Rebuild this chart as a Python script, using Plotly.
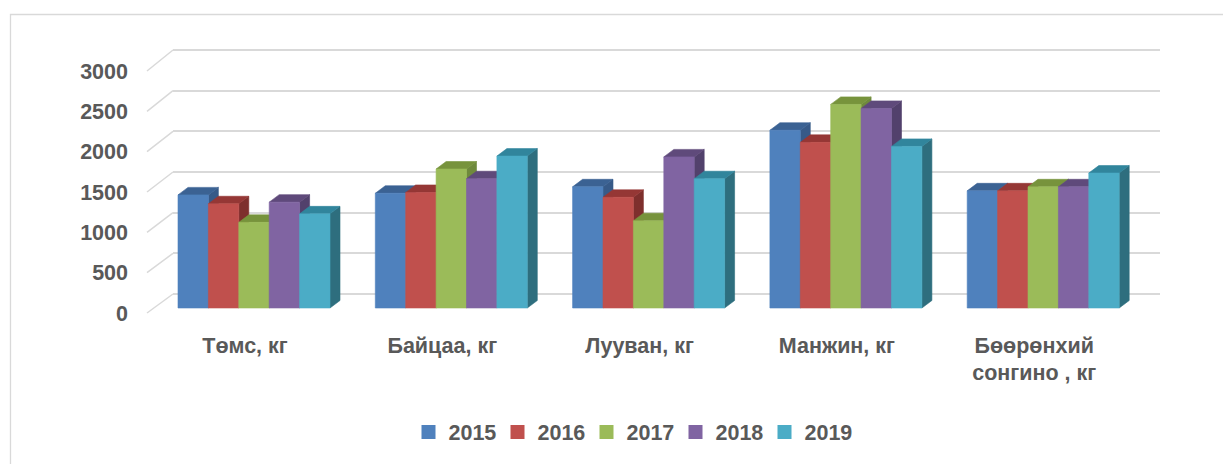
import plotly.graph_objects as go

# ---------------- data ----------------
categories = ["Төмс, кг", "Байцаа, кг", "Лууван, кг", "Манжин, кг", "Бөөрөнхий<br>сонгино , кг"]
years = ["2015", "2016", "2017", "2018", "2019"]
v2015 = [1400, 1420, 1500, 2200, 1450]
v2016 = [1290, 1430, 1370, 2050, 1450]
v2017 = [1060, 1720, 1080, 2520, 1500]
v2018 = [1310, 1600, 1870, 2470, 1500]
v2019 = [1165, 1880, 1600, 2000, 1670]
series = [v2015, v2016, v2017, v2018, v2019]
y_ticks = [0, 500, 1000, 1500, 2000, 2500, 3000]

# ---------------- styling ----------------
front_col = ["#4F81BD", "#C0504D", "#9BBB59", "#8064A2", "#4BACC6"]
top_col = ["#3B6293", "#953735", "#77933C", "#5F4A7B", "#31859C"]
side_col = ["#375A88", "#7E2F2D", "#6F8A3C", "#52416C", "#2E6E7E"]
txt = "#595959"
grid = "#D9D9D9"
FONT = "Liberation Sans"
FS = 21.5
PAGE_OFF = 8  # default body margin of the html page

# plot area in (screen) pixels
T, B, L, R = 40, 330, 173, 1160
W, H = R - L, B - T
PX_PER_CAT = 197.3
LABEL0 = 245.0          # pixel of first category label
x_range = [(L - LABEL0) / PX_PER_CAT, (R - LABEL0) / PX_PER_CAT]


def yrange(p0, p3000):
    s = (p0 - p3000) / 3000.0
    return [-(B - p0) / s, (p0 - T) / s], s


bars_range, s_bars = yrange(308, 65.6)
front_range, s_front = yrange(313, 71)
back_range, s_back = yrange(294, 50)

# bar geometry (relative, in category units)
group_shift = 9 / PX_PER_CAT
group_w = 152 / PX_PER_CAT
bar_w = group_w / len(years)
ddx = 10 / PX_PER_CAT
ddy = 7.5 / s_bars

fig = go.Figure()

for k in range(len(categories)):
    g0 = k + group_shift - group_w / 2
    for j, vals in enumerate(series):
        h = vals[k]
        x0 = g0 + j * bar_w
        x1 = x0 + bar_w
        # side face
        fig.add_trace(go.Scatter(
            x=[x1, x1 + ddx, x1 + ddx, x1, x1], y=[0, ddy, h + ddy, h, 0],
            fill="toself", fillcolor=side_col[j], mode="lines",
            line=dict(color=side_col[j], width=0.6), hoverinfo="skip", showlegend=False))
        # top face
        fig.add_trace(go.Scatter(
            x=[x0, x1, x1 + ddx, x0 + ddx, x0], y=[h, h, h + ddy, h + ddy, h],
            fill="toself", fillcolor=top_col[j], mode="lines",
            line=dict(color=top_col[j], width=0.6), hoverinfo="skip", showlegend=False))
        # front face
        fig.add_trace(go.Scatter(
            x=[x0, x1, x1, x0, x0], y=[0, 0, h, h, 0],
            fill="toself", fillcolor=front_col[j], mode="lines",
            line=dict(color=front_col[j], width=0.6),
            name=years[j], hoverinfo="name+text", text=[str(h)] * 5, showlegend=False))

# legend entries
for j, yr in enumerate(years):
    fig.add_trace(go.Scatter(
        x=[None], y=[None], mode="markers", name=yr,
        marker=dict(symbol="square", size=14, color=front_col[j]), showlegend=True))

# invisible traces to activate helper axes
fig.add_trace(go.Scatter(x=[None], y=[None], yaxis="y2", showlegend=False, hoverinfo="skip"))
fig.add_trace(go.Scatter(x=[None], y=[None], yaxis="y3", showlegend=False, hoverinfo="skip"))

# perspective diagonals of gridlines + outer border
shapes = []
for v in y_ticks:
    pf = 313 - v * s_front
    pb = 294 - v * s_back
    shapes.append(dict(type="line", xref="paper", yref="paper",
                       x0=(147 - L) / W, y0=(B - pf) / H, x1=0, y1=(B - pb) / H,
                       line=dict(color=grid, width=1.5), layer="below"))
shapes.append(dict(type="rect", xref="paper", yref="paper",
                   x0=(10.5 - L) / W, y0=(B - 14.5) / H, x1=(1260 - L) / W, y1=(B - 500) / H,
                   line=dict(color=grid, width=1.3), fillcolor="rgba(0,0,0,0)", layer="below"))

fig.update_layout(
    width=1231, height=464,
    margin=dict(l=L - PAGE_OFF, r=1231 - (R - PAGE_OFF), t=T - PAGE_OFF, b=464 - (B - PAGE_OFF)),
    paper_bgcolor="white", plot_bgcolor="white",
    font=dict(family=FONT, color=txt, size=FS),
    showlegend=True,
    legend=dict(orientation="h", x=(631 - L) / W, xanchor="center",
                y=(B - 432) / H, yanchor="middle",
                font=dict(family=FONT, size=FS, color=txt, weight="bold"),
                entrywidth=44, entrywidthmode="pixels",
                itemsizing="trace", tracegroupgap=0),
    xaxis=dict(range=x_range, tickvals=list(range(len(categories))), ticktext=categories,
               showgrid=False, zeroline=False, showline=False, ticks="",
               tickfont=dict(family=FONT, size=FS, color=txt, weight="bold"),
               fixedrange=True),
    yaxis=dict(range=bars_range, visible=False, fixedrange=True),
    yaxis2=dict(range=front_range, overlaying="y", side="left", anchor="x",
                tickvals=y_ticks, showgrid=False, zeroline=False, showline=False,
                ticks="", ticklabelstandoff=44,
                tickfont=dict(family=FONT, size=FS, color=txt, weight="bold"),
                fixedrange=True),
    yaxis3=dict(range=back_range, overlaying="y", side="left", anchor="x",
                tickvals=y_ticks, showticklabels=False, showgrid=True, gridcolor=grid,
                gridwidth=1.5, zeroline=False, showline=False, ticks="", fixedrange=True),
    shapes=shapes,
)

fig.write_html("out.html")
